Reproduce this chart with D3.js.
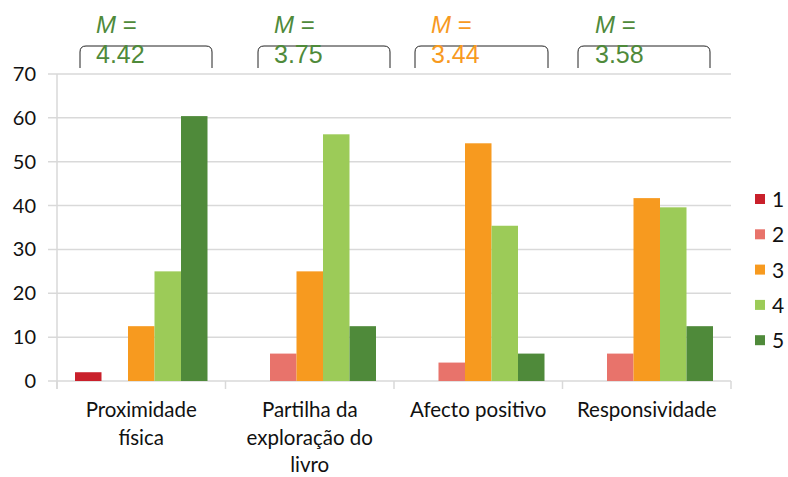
<!DOCTYPE html>
<html><head><meta charset="utf-8">
<script src="https://cdn.jsdelivr.net/npm/d3@7"></script>
<style>body{margin:0;background:#fff}</style>
</head><body>
<svg id="c" width="788" height="477"></svg>
<script>
const categories = [["Proximidade","física"],["Partilha da","exploração do","livro"],["Afecto positivo"],["Responsividade"]];
const seriesNames = ["1","2","3","4","5"];
const s1 = [2, 0, 0, 0];
const s2 = [0, 6.25, 4.2, 6.25];
const s3 = [12.5, 25, 54.2, 41.7];
const s4 = [25, 56.25, 35.4, 39.6];
const s5 = [60.4, 12.5, 6.25, 12.5];
const series = [s1, s2, s3, s4, s5];
const colors = ["#c9202b", "#e8736b", "#f79a1f", "#9ccb58", "#4f8a3a"];
const means = ["4.42", "3.75", "3.44", "3.58"];
const meanColors = ["#4f8a3a", "#4f8a3a", "#f79a1f", "#4f8a3a"];
const yTicks = [0,10,20,30,40,50,60,70];

(function(){
const svg = d3.select("#c");
const pL = 57, pR = 731, pT = 74, pB = 381;
const y = d3.scaleLinear().domain([0,70]).range([pB, pT]);
const x0 = d3.scaleBand().domain(d3.range(categories.length)).range([pL, pR]).paddingInner(0).paddingOuter(0);
const x1 = d3.scaleBand().domain(d3.range(5)).range([18, x0.bandwidth()-18]).padding(0);

svg.append("g").selectAll("line").data(yTicks).join("line")
  .attr("x1", 48).attr("x2", pR).attr("y1", d=>y(d)).attr("y2", d=>y(d))
  .attr("stroke", "#d9d9d9").attr("stroke-width", 1.5);
svg.append("line").attr("x1", pL).attr("x2", pL).attr("y1", pT).attr("y2", pB+8)
  .attr("stroke", "#d9d9d9").attr("stroke-width", 1.5);
svg.append("g").selectAll("line").data(d3.range(categories.length+1)).join("line")
  .attr("x1", d=>pL + d*x0.bandwidth()).attr("x2", d=>pL + d*x0.bandwidth())
  .attr("y1", pB).attr("y2", pB+8).attr("stroke", "#d9d9d9").attr("stroke-width", 1.5);

svg.append("g").selectAll("text").data(yTicks).join("text")
  .attr("x", 36).attr("y", d=>y(d)+7).attr("text-anchor", "end")
  .attr("font-family", "Lato, 'Open Sans', sans-serif").attr("font-size", 20).attr("fill", "#111")
  .text(d=>d);

const g = svg.append("g");
series.forEach((s, si) => {
  g.selectAll(null).data(s).join("rect")
    .attr("x", (d,i)=>x0(i)+x1(si)).attr("width", x1.bandwidth())
    .attr("y", d=>y(d)).attr("height", d=>pB - y(d))
    .attr("fill", colors[si]);
});

categories.forEach((lines, i) => {
  const t = svg.append("text").attr("text-anchor", "middle")
    .attr("font-family", "Lato, 'Open Sans', sans-serif").attr("font-size", 20.5).attr("fill", "#111");
  lines.forEach((ln, j) => {
    t.append("tspan").attr("x", x0(i)+x0.bandwidth()/2).attr("y", 417 + j*27.5).text(ln);
  });
});

seriesNames.forEach((n, i) => {
  const ly = 199 + i*35.3;
  svg.append("rect").attr("x", 755).attr("y", ly-5).attr("width", 10).attr("height", 10).attr("fill", colors[i]);
  svg.append("text").attr("x", 772).attr("y", ly+8).attr("font-family", "Lato, 'Open Sans', sans-serif")
    .attr("font-size", 21).attr("fill", "#111").text(n);
});

const bracketX = [[80,212],[258,390],[415,548],[578,710]];
const textX = [96, 274, 431, 595];
means.forEach((m, i) => {
  const [a, b] = bracketX[i];
  svg.append("path")
    .attr("d", `M${a},68 L${a},52 Q${a},46 ${a+6},46 L${b-6},46 Q${b},46 ${b},52 L${b},68`)
    .attr("fill", "none").attr("stroke", "#222").attr("stroke-width", 1);
  const t1 = svg.append("text").attr("x", textX[i]).attr("y", 33)
    .attr("font-family", "'Liberation Sans', Arial, sans-serif").attr("font-size", 24).attr("fill", meanColors[i]);
  t1.append("tspan").attr("font-style", "italic").text("M");
  t1.append("tspan").text(" =");
  svg.append("text").attr("x", textX[i]).attr("y", 63)
    .attr("font-family", "'Liberation Sans', Arial, sans-serif").attr("font-size", 25).attr("fill", meanColors[i]).text(m);
});
})();
</script>
</body></html>
